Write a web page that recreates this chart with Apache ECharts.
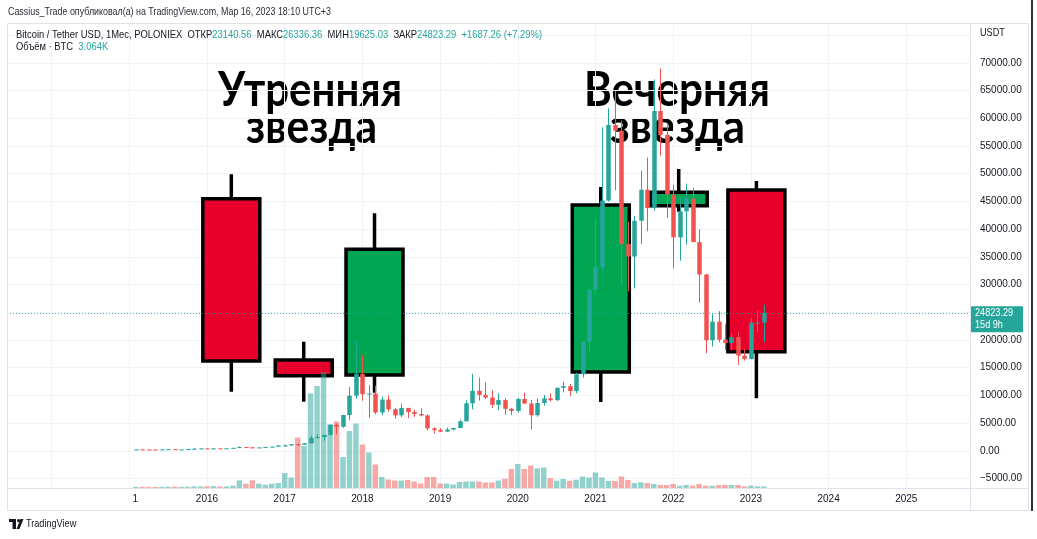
<!DOCTYPE html>
<html><head><meta charset="utf-8">
<script src="https://cdn.jsdelivr.net/npm/echarts@6/dist/echarts.min.js"></script>
<style>html,body{margin:0;padding:0;background:#fff;}#c{width:1037px;height:539px;}</style>
</head><body><div id="c"></div>
<script>
// ---- data (monthly, POLONIEX BTC/USDT) ----
const firstMonth = [2015, 2]; // Feb 2015
const openP = [
  217,254,244,236,230,263,284,230,236,314,377,
  430,368,437,416,448,531,673,624,575,609,699,742,
  963,970,1190,1080,1348,2300,2480,2875,4700,4340,6460,9950,
  13860,10220,10330,6920,9240,7500,6400,7730,7000,6630,6370,4040,
  3740,3460,3830,4110,5320,8570,10820,10080,9600,8300,9150,7570,
  7190,9350,8540,6420,8630,9450,9140,11350,11650,10780,13800,19700,
  29000,33100,45150,58800,57750,37300,35050,41500,47100,43800,61300,57000,
  46200,38500,43200,45500,37650,31800,19950,23300,20050,19430,20500,17170,
  16550,23130,23140.56];
const highP = [
  265,300,261,247,268,318,285,244,334,503,469,
  462,448,439,468,547,778,704,626,628,720,754,979,
  1150,1210,1290,1350,2760,2980,2930,4750,4980,6470,11500,19800,
  17250,11790,11700,9760,9990,7760,8500,7750,7400,7680,6600,4240,
  4090,4200,4140,5620,9100,13880,13200,12330,10930,10400,9510,7760,
  9600,10500,9190,9470,10070,10380,11440,12470,12070,14100,19860,29300,
  41950,58350,61780,64900,59600,41330,42400,50500,52900,67000,69000,59100,
  47990,45800,48200,47450,40000,31950,24650,25200,22800,21100,21450,18400,
  23950,25250,26336.36];
const lowP = [
  212,236,215,228,218,253,198,225,236,298,346,
  351,367,394,412,436,531,608,470,569,603,680,742,
  751,936,892,1070,1348,2200,1830,2680,2980,4150,5520,9400,
  9050,5950,6600,6430,7040,5760,6080,5880,6100,6200,3650,3120,
  3390,3400,3710,4090,5290,7480,9070,9320,7750,7300,6530,6430,
  6870,8450,3850,6150,8120,8900,8980,10550,9880,10390,13200,17600,
  28130,32300,44950,47000,30000,28800,29300,37300,39600,43300,53250,42000,
  32900,34300,37200,37700,26700,17600,18800,19600,18150,18200,15500,16300,
  16500,21400,19625.03];
const closeP = [
  254,244,236,230,263,284,230,236,314,377,430,
  368,437,416,448,531,673,624,575,609,699,742,963,
  970,1190,1080,1348,2300,2480,2875,4700,4340,6460,9950,13860,
  10220,10330,6920,9240,7500,6400,7730,7000,6630,6370,4040,3740,
  3460,3830,4110,5320,8570,10820,10080,9600,8300,9150,7570,7190,
  9350,8540,6420,8630,9450,9140,11350,11650,10780,13800,19700,29000,
  33100,45150,58800,57750,37300,35050,41500,47100,43800,61300,57000,46200,
  38500,43200,45500,37650,31800,19950,23300,20050,19430,20500,17170,16550,
  23130,23136.03,24823.29];
const volumeK = [ // thousand BTC
  2.2,2.4,2.2,2.0,2.4,2.6,2.8,2.2,2.6,3.4,3.0,
  3.4,3.8,3.0,3.2,4.6,15.4,8.6,15.4,8.6,6.6,8.6,10,
  30,21,101,84,189,204,232,127,133,62,114,129,
  87,71,47,22,17,15,15,16,13,9,22,22,
  9,9,7,12,13,13,13,11,11,15,18.5,38,
  48,38,45,39.5,41,20,14.5,18,14.5,16.5,23,21,
  31,21,14,14,23,16,10,11.5,10,8,6,6,
  8,4.6,6,4.6,8,4.6,4.6,6,6,6,6,3.4,
  4.6,3.4,3.064];
// drawn pattern candles (annotation), x in decimal years
const patX     = [2016.313, 2017.245, 2018.156, 2021.068, 2022.071, 2023.071];
const patOpen  = [45481, 16381, 13675, 14216, 44218, 47050];
const patClose = [16201, 13549, 36352, 44344, 46636, 17878];
const patLow   = [10662, 8858, 10482, 8804, 43136, 9471];
const patHigh  = [49883, 19683, 42847, 47592, 50839, 48674];
const patTitles = [['Утренняя','звезда'],['Вечерняя','звезда']];
const yearLabels = {2015:'1',2016:'2016',2017:'2017',2018:'2018',2019:'2019',2020:'2020',2021:'2021',2022:'2022',2023:'2023',2024:'2024',2025:'2025'};

// ---- styles ----
const UP='#26a69a', DOWN='#ef5350', VUP='rgba(38,166,154,0.5)', VDOWN='rgba(239,83,80,0.5)';
const PRED='#e6002b', PGREEN='#00a651';
const UIFONT = "'Liberation Sans',Arial,sans-serif";
const TXT = '#131722';
const SQ = 0.83; // horizontal squeeze of UI texts

const xs = openP.map((_, i) => firstMonth[0] + (firstMonth[1] - 1 + i) / 12);
const candleData = xs.map((x, i) => [x, openP[i], closeP[i], lowP[i], highP[i]]);
const volData = xs.map((x, i) => [x, volumeK[i], closeP[i] >= openP[i] ? 1 : 0]);
const patData = patX.map((x, i) => [x, patOpen[i], patClose[i], patLow[i], patHigh[i]]);
const n = closeP.length;
const lastO = openP[n-1], lastH = highP[n-1], lastL = lowP[n-1], lastC = closeP[n-1];
const chg = lastC - closeP[n-2], chgPct = chg / closeP[n-2] * 100;

function fitScale(text, font, width) {
  const ctx = document.createElement('canvas').getContext('2d');
  ctx.font = font; return width / ctx.measureText(text).width;
}
const BIGFONT = "bold 47px Lato, 'Noto Sans', sans-serif";

const chart = echarts.init(document.getElementById('c'), null, {renderer:'canvas'});
const option = {
  animation: false,
  backgroundColor: '#fff',
  grid: {left: 7, right: 67, top: 23, bottom: 51},
  xAxis: {
    type: 'value', min: 2013.426, max: 2025.820, splitNumber: 12,
    axisLine: {show: false}, axisTick: {show: false},
    splitLine: {show: true, lineStyle: {color: '#f0f3fa', width: 1}},
    axisLabel: {
      showMinLabel: false, showMaxLabel: false, margin: 6,
      color: TXT, fontSize: 10, fontFamily: UIFONT,
      formatter: v => { const t = yearLabels[Math.round(v)]; if (!t || Math.abs(v - Math.round(v)) > 1e-6) return ''; return v === 2015 ? '{s|1}' : t; },
      rich: {s: {padding: [0,0,0,12], color: TXT, fontSize: 10, fontFamily: UIFONT}}
    }
  },
  yAxis: [{
    type: 'value', position: 'right', min: -6711, max: 77178, splitNumber: 16,
    axisLine: {show: false}, axisTick: {show: false},
    splitLine: {show: true, lineStyle: {color: '#f0f3fa', width: 1}},
    axisLabel: {
      showMinLabel: false, showMaxLabel: false, margin: 10, align: 'left',
      color: TXT, fontSize: 10, fontFamily: UIFONT,
      formatter: v => (v > 70000 ? '' : (v < 0 ? '\u2212' + Math.abs(v).toFixed(2) : v.toFixed(2)))
    }
  }, {
    type: 'value', min: 0, max: 930, show: false, splitLine: {show: false}
  }],
  series: [{
    type: 'custom', name: 'pattern', z: 1, data: patData,
    encode: {x: 0, y: [1,2,3,4]},
    renderItem: (params, api) => {
      const x = api.value(0), o = api.value(1), c = api.value(2), l = api.value(3), h = api.value(4);
      const po = api.coord([x, o]), pc = api.coord([x, c]), pl = api.coord([x, l]), ph = api.coord([x, h]);
      const w = 57, cx = po[0];
      const top = Math.min(po[1], pc[1]), bot = Math.max(po[1], pc[1]);
      return {type: 'group', children: [
        {type: 'line', shape: {x1: cx, y1: ph[1], x2: cx, y2: pl[1]}, style: {stroke: '#000', lineWidth: 3.5}},
        {type: 'rect', shape: {x: cx - w/2, y: top, width: w, height: bot - top},
         style: {fill: c >= o ? PGREEN : PRED, stroke: '#000', lineWidth: 3.5}}
      ]};
    }
  }, {
    type: 'custom', name: 'volume', z: 4, yAxisIndex: 1, data: volData,
    encode: {x: 0, y: 1},
    renderItem: (params, api) => {
      const x = api.value(0), v = api.value(1), up = api.value(2);
      const p = api.coord([x, v]), b = api.coord([x, 0]);
      return {type: 'rect', shape: {x: p[0] - 2.75, y: p[1], width: 5.5, height: b[1] - p[1]},
              style: {fill: up ? VUP : VDOWN}};
    }
  }, {
    type: 'custom', name: 'price', z: 5, data: candleData,
    encode: {x: 0, y: [1,2,3,4]},
    renderItem: (params, api) => {
      const x = api.value(0), o = api.value(1), c = api.value(2), l = api.value(3), h = api.value(4);
      const po = api.coord([x, o]), pc = api.coord([x, c]), pl = api.coord([x, l]), ph = api.coord([x, h]);
      const col = c >= o ? UP : DOWN, w = 4.5, cx = Math.round(po[0]) + 0.5;
      const top = Math.min(po[1], pc[1]), hg = Math.max(1, Math.abs(po[1] - pc[1]));
      return {type: 'group', children: [
        {type: 'line', shape: {x1: cx, y1: ph[1], x2: cx, y2: pl[1]}, style: {stroke: col, lineWidth: 1}},
        {type: 'rect', shape: {x: cx - w/2, y: top, width: w, height: hg}, style: {fill: col}}
      ]};
    },
    markLine: {
      silent: true, symbol: ['none','none'], label: {show: false},
      lineStyle: {color: UP, type: [1, 2], width: 1, opacity: 0.8},
      data: [{yAxis: lastC}]
    }
  }],
  graphic: []
};
chart.setOption(option);

const f2 = v => v.toFixed(2);
const py = chart.convertToPixel({yAxisIndex: 0}, lastC);
const big = (t, x, y, w) => ({type: 'text', x: x, y: y, scaleX: fitScale(t, BIGFONT, w), z: 0,
  style: {text: t, font: BIGFONT, fill: '#000', align: 'center', verticalAlign: 'middle'}});
const ui = (t, x, y, opts) => Object.assign({type: 'text', x: x, y: y, scaleX: SQ, z: 10,
  style: Object.assign({text: t, font: '11px ' + UIFONT, fill: TXT, verticalAlign: 'middle'}, (opts || {}).style || {})}, (opts || {}).el || {});
const headerText = 'Cassius_Trade опубликовал(а) на TradingView.com, Мар 16, 2023 18:10 UTC+3';
chart.setOption({graphic: [
  {type: 'rect', shape: {x: 7.5, y: 23.5, width: 1021, height: 487}, style: {fill: 'none', stroke: '#e0e3eb', lineWidth: 1}, z: 10},
  {type: 'line', shape: {x1: 970.5, y1: 23, x2: 970.5, y2: 511}, style: {stroke: '#e0e3eb', lineWidth: 1}, z: 10},
  {type: 'line', shape: {x1: 7, y1: 488.5, x2: 1028, y2: 488.5}, style: {stroke: '#e0e3eb', lineWidth: 1}, z: 10},
  {type: 'line', shape: {x1: 1032, y1: 0, x2: 1032, y2: 511}, style: {stroke: '#2a2e39', lineWidth: 2}, z: 10},
  ui(headerText, 8, 12, {style: {fill: '#2a2e39'}, el: {scaleX: fitScale(headerText, '11px ' + UIFONT, 323)}}),
  ui('Bitcoin / Tether USD, 1Мес, POLONIEX  ОТКР{v|' + f2(lastO) + '}  МАКС{v|' + f2(lastH) + '}  МИН{v|' + f2(lastL) + '}  ЗАКР{v|' + f2(lastC) + '}  {v|' + (chg >= 0 ? '+' : '') + f2(chg) + ' (' + (chg >= 0 ? '+' : '') + chgPct.toFixed(2) + '%)}',
     16, 35, {style: {rich: {v: {fill: UP, font: '11px ' + UIFONT}}}, el: {scaleX: 0.855}}),
  ui('Объём · BTC  {v|' + (volumeK[n-1]).toFixed(3) + 'K}', 16, 47, {style: {rich: {v: {fill: UP, font: '11px ' + UIFONT}}}, el: {scaleX: 0.855}}),
  ui('USDT', 980, 33),
  big(patTitles[0][0], 310, 91, 184), big(patTitles[0][1], 311.5, 128, 131),
  big(patTitles[1][0], 677, 91, 186), big(patTitles[1][1], 677.5, 128, 135),
  {type: 'rect', shape: {x: 971, y: py - 7, width: 52, height: 26}, style: {fill: UP}, z: 10},
  ui(f2(lastC), 975, py, {style: {fill: '#fff'}, el: {z: 11}}),
  ui('15d 9h', 975, py + 12, {style: {fill: '#fff'}, el: {z: 11}}),
  {type: 'rect', shape: {x: 9, y: 519, width: 7, height: 3}, style: {fill: TXT}},
  {type: 'rect', shape: {x: 12.5, y: 519, width: 3.5, height: 10}, style: {fill: TXT}},
  {type: 'circle', shape: {cx: 18.6, cy: 520.6, r: 1.6}, style: {fill: TXT}},
  {type: 'polygon', shape: {points: [[16.5, 529], [20.5, 519], [23.5, 519], [19.5, 529]]}, style: {fill: TXT}},
  ui('TradingView', 26, 524)
]});
</script></body></html>
